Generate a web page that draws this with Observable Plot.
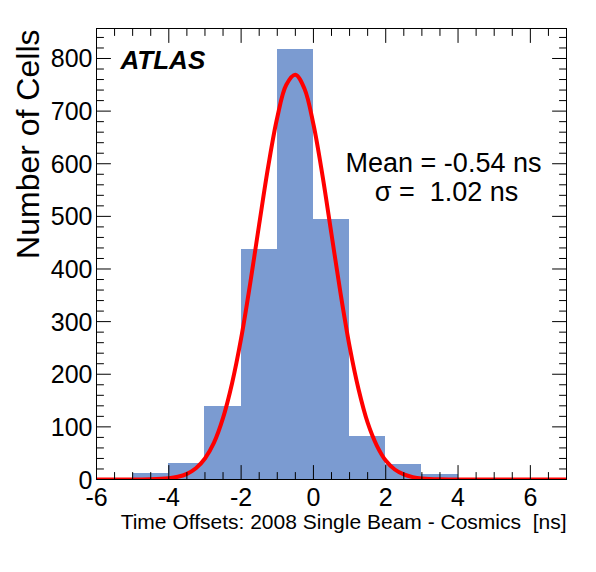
<!DOCTYPE html>
<html>
<head>
<meta charset="utf-8">
<script src="https://cdn.jsdelivr.net/npm/d3@7"></script>
<script src="https://cdn.jsdelivr.net/npm/@observablehq/plot@0.6"></script>
<style>
  body { margin: 0; background: #ffffff; }
  #chart svg { display: block; }
</style>
</head>
<body>
<div id="chart"></div>
<script>
// Histogram bins (time offset, ns) and counts
const binStart = [-6, -5, -4, -3, -2, -1, 0, 1, 2, 3, 4, 5, 6];
const binEnd   = [-5, -4, -3, -2, -1, 0, 1, 2, 3, 4, 5, 6, 7];
const cellCounts = [0, 12, 31, 139, 438, 817, 495, 81, 29, 10, 0, 0, 0];

// Gaussian fit curve
const fitX = [-6, -5.5, -5, -4.5, -4, -3.75, -3.5, -3.25, -3, -2.75, -2.5, -2.25, -2, -1.75, -1.5, -1.25, -1, -0.75, -0.5, -0.25, 0, 0.25, 0.5, 0.75, 1, 1.25, 1.5, 1.75, 2, 2.25, 2.5, 2.75, 3, 3.5, 4, 5, 6, 7];
const fitY = [0, 0, 0.1, 0.4, 2.3, 5.1, 10.8, 21.4, 40, 70, 117, 183, 268, 372, 485, 595, 688, 750, 769, 743, 675, 578, 466, 354, 253, 171, 108, 65, 36, 19, 9.6, 4.5, 2, 0.3, 0, 0, 0, 0];

// Axis ticks and labels
const xTickValues = [-6, -4, -2, 0, 2, 4, 6];
const yTickValues = [0, 100, 200, 300, 400, 500, 600, 700, 800];
const xMinorValues = d3.range(-6, 7.001, 0.5).filter(v => !xTickValues.includes(v));
const yMinorValues = d3.range(0, 857, 20).filter(v => v % 100 !== 0);

const yTitle = "Number of Cells";
const xTitle = "Time Offsets: 2008 Single Beam - Cosmics\u00a0 [ns]";
const brand = "ATLAS";
const statLines = ["Mean = -0.54 ns", "\u03c3 =\u00a0 1.02 ns"];

const bins = binStart.map((s, i) => ({x1: s, x2: binEnd[i], y: cellCounts[i]}));
const fit = fitX.map((x, i) => ({x, y: fitY[i]}));

const tickShape = {draw(ctx, l) { ctx.moveTo(0, 0); ctx.lineTo(0, -l); }};
const font = "'Liberation Sans', Arial, Helvetica, sans-serif";

function ticks(values, dim, frameAnchor, rotate, length) {
  const opts = {frameAnchor, rotate, length, anchor: "start", shape: tickShape, stroke: "black", strokeWidth: 1};
  opts[dim] = d => d;
  return Plot.vector(values, opts);
}

const chart = Plot.plot({
  width: 596,
  height: 572,
  marginLeft: 96,
  marginRight: 30,
  marginTop: 28,
  marginBottom: 93,
  x: {domain: [-6, 7], axis: null},
  y: {domain: [0, 857], axis: null},
  style: {fontFamily: font, background: "white", color: "black", overflow: "visible"},
  marks: [
    Plot.rectY(bins, {x1: "x1", x2: "x2", y: "y", fill: "#7b9bd1", inset: 0, shapeRendering: "crispEdges"}),
    Plot.line(fit, {x: "x", y: "y", stroke: "#ff0000", strokeWidth: 4, curve: "catmull-rom", clip: true}),
    // ticks: bottom, top, left, right
    ticks(xTickValues, "x", "bottom", 0, 14),
    ticks(xMinorValues, "x", "bottom", 0, 7),
    ticks(xTickValues, "x", "top", 180, 14),
    ticks(xMinorValues, "x", "top", 180, 7),
    ticks(yTickValues, "y", "left", 90, 14),
    ticks(yMinorValues, "y", "left", 90, 7),
    ticks(yTickValues, "y", "right", 270, 14),
    ticks(yMinorValues, "y", "right", 270, 7),
    Plot.frame({stroke: "black", strokeWidth: 1}),
    // tick labels
    Plot.text(xTickValues, {x: d => d, text: d => String(d), frameAnchor: "bottom", lineAnchor: "bottom", dy: 26, fontSize: 25, fill: "black"}),
    Plot.text(yTickValues, {y: d => d, text: d => String(d), frameAnchor: "left", textAnchor: "end", lineAnchor: "middle", dx: -4, dy: 1, fontSize: 25, fill: "black"}),
    // titles
    Plot.text([yTitle], {text: d => d, frameAnchor: "top-left", rotate: -90, textAnchor: "end", lineAnchor: "bottom", dx: -58, dy: 1, fontSize: 32, fill: "black"}),
    Plot.text([xTitle], {text: d => d, frameAnchor: "bottom-right", textAnchor: "end", lineAnchor: "bottom", dx: 0, dy: 49, fontSize: 21, fill: "black"}),
    Plot.text([brand], {text: d => d, frameAnchor: "top-left", textAnchor: "start", lineAnchor: "bottom", dx: 24, dy: 40, fontSize: 26, fontWeight: "bold", fontStyle: "italic", fill: "black"}),
    Plot.text([statLines[0]], {text: d => d, frameAnchor: "top-left", textAnchor: "middle", lineAnchor: "bottom", dx: 347, dy: 143, fontSize: 27, fill: "black"}),
    Plot.text([statLines[1]], {text: d => d, frameAnchor: "top-left", textAnchor: "middle", lineAnchor: "bottom", dx: 350, dy: 172, fontSize: 27, fill: "black"})
  ]
});
document.getElementById("chart").appendChild(chart);
</script>
</body>
</html>
